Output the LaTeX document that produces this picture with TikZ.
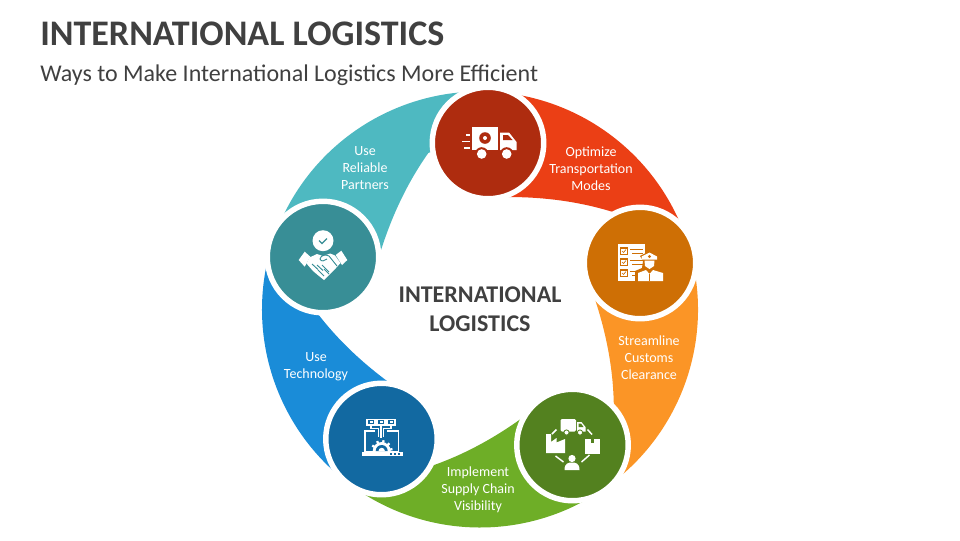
\documentclass[tikz,border=0pt]{standalone}
\usepackage{fontspec}
\setmainfont{Carlito}
\usepackage{xcolor}
\usetikzlibrary{positioning, calc}
\definecolor{inktext}{HTML}{404040}
\definecolor{redpart}{HTML}{EB3F15}
\definecolor{redhub}{HTML}{AE2C0F}
\definecolor{orangepart}{HTML}{FB9526}
\definecolor{orangehub}{HTML}{CE6F05}
\definecolor{greenpart}{HTML}{6EAE27}
\definecolor{greenhub}{HTML}{53811F}
\definecolor{bluepart}{HTML}{1A8CD8}
\definecolor{bluehub}{HTML}{1269A1}
\definecolor{tealpart}{HTML}{4EB9C1}
\definecolor{tealhub}{HTML}{388E96}

\begin{document}
\begin{tikzpicture}[
    x=0.75pt, y=-0.75pt,
    hub/.style={circle, draw=white, line width=4.1pt, minimum size=83.6pt, inner sep=0pt},
    steplabel/.style={text=white, align=center, font=\fontsize{10.5}{12.75}\selectfont},
    headtext/.style={text=inktext, anchor=base west, inner sep=0pt},
    ink/.style={fill=white, draw=none},
    pen/.style={draw=white, line width=1.1pt},
    ringpart/.pic={
      \fill[pic actions] (87:163.5pt) arc[start angle=87, end angle=16, radius=163.5pt]
        -- (160,-60) -- (133,-97.5) .. controls (107,-105.5) and (73,-112.5) .. (28,-112.5)
        -- (9,-113) -- cycle;
    },
  ]
  \useasboundingbox (0,0) rectangle (960,540);
  % Headings
  \node[headtext, font=\fontsize{27}{32}\selectfont\bfseries] (title) at (40,45) {INTERNATIONAL LOGISTICS};
  \node[headtext, font=\fontsize{18}{22}\selectfont] (subtitle) at (40,81) {Ways to Make International Logistics More Efficient};
  % Ring
  \coordinate (ringc) at (480,309.5);
  \pic[fill=redpart] at (ringc) {ringpart};
  \pic[fill=orangepart, rotate=-72] at (ringc) {ringpart};
  \pic[fill=greenpart, rotate=-144] at (ringc) {ringpart};
  \pic[fill=bluepart, rotate=-216] at (ringc) {ringpart};
  \pic[fill=tealpart, rotate=-288] at (ringc) {ringpart};
  % Hubs
  \node[hub, fill=redhub] (truck) at (488,143) {};
  \node[hub, fill=orangehub] (officer) at (640,263) {};
  \node[hub, fill=greenhub] (chain) at (572.5,445) {};
  \node[hub, fill=bluehub] (tech) at (381.5,439) {};
  \node[hub, fill=tealhub] (hands) at (323,257) {};
  % Labels
  \node[steplabel] (optimize) at (591,168.5) {Optimize\\Transportation\\Modes};
  \node[steplabel] (customs) at (649,357.5) {Streamline\\Customs\\Clearance};
  \node[steplabel] (visibility) at (478,489.5) {Implement\\Supply Chain\\Visibility};
  \node[steplabel] (usetech) at (316,366.5) {Use\\Technology};
  \node[steplabel] (partners) at (365,168.5) {Use\\Reliable\\Partners};
  \node[text=inktext, align=center, font=\fontsize{18}{21.7}\selectfont\bfseries] (center) at (480,309) {INTERNATIONAL\\LOGISTICS};
  % Truck icon
  \begin{scope}[shift={(truck.center)}]
    \fill[ink] (-16.5,-16.5) rectangle (10,7);
    \fill[ink] (12,-10.5) -- (21,-10.5) -- (28.5,-1) -- (28.5,7) -- (12,7) -- cycle;
    \fill[redhub] (15,-8) -- (20,-8) -- (24.5,-3) -- (15,-3) -- cycle;
    \fill[redhub] (-3,-5) circle (5.8);
    \fill[ink] (-3,-5) circle (2);
    \fill[redhub] (-6.3,11) circle (6.8);
    \fill[redhub] (18.7,11) circle (6.8);
    \fill[ink] (-6.3,11) circle (4.8);
    \fill[ink] (18.7,11) circle (4.8);
    \draw[pen] (-22,-8) -- (-18,-8);
    \draw[pen] (-26,-1.5) -- (-18,-1.5);
    \draw[pen] (-24,5) -- (-18,5);
  \end{scope}
  % Officer icon
  \begin{scope}[shift={(officer.center)}]
    \fill[ink] (-22,-19) rectangle (5,18);
    \foreach \yy in {-12,-1,10} {
      \draw[orangehub, line width=0.8pt] (-19.5,\yy-3) rectangle (-12.5,\yy+3.5);
      \draw[orangehub, line width=0.5pt] (-18,\yy) -- (-16.5,\yy+1.5) -- (-14,\yy-1.5);
      \draw[orangehub, line width=0.7pt] (-10,\yy-2) -- (3,\yy-2);
      \draw[orangehub, line width=0.7pt] (-8,\yy+2) -- (3,\yy+2);
    }
    \fill[orangehub] (-5,18) -- (-5,8) -- (2,5) -- (3,-2) -- (0,-7) -- (9.5,-12) -- (19,-7) -- (17,-2) -- (16,5) -- (26,8) -- (26,18) -- cycle;
    \fill[ink] (1.7,-3.5) -- (1.7,-6.5) -- (9.5,-10.5) -- (17,-6.5) -- (17,-3.5) -- cycle;
    \fill[ink] (4.5,-2.5) -- (14.5,-2.5) -- (14,3) -- (9.5,6) -- (5,3) -- cycle;
    \fill[ink] (-2,18) -- (-2,10) -- (6,7) -- (9.5,11) -- (13,7) -- (23,10) -- (23,18) -- cycle;
    \draw[orangehub, line width=0.6pt] (9.5,11) -- (9.5,18);
    \fill[orangehub] (9.5,-6.5) circle (1.6);
  \end{scope}
  % Supply chain icon
  \begin{scope}[shift={(chain.center)}]
    \fill[ink, rounded corners=1pt] (-12,-26) rectangle (3.5,-13.5);
    \fill[ink] (4.5,-23) -- (9,-23) -- (13,-18) -- (13,-13.5) -- (4.5,-13.5) -- cycle;
    \fill[greenhub] (6,-21.5) -- (8.5,-21.5) -- (11,-18) -- (6,-18) -- cycle;
    \draw[greenhub, fill=white, line width=0.6pt] (-6,-12.5) circle (2.6);
    \draw[greenhub, fill=white, line width=0.6pt] (7.5,-12.5) circle (2.6);
    \fill[ink] (-26.5,8) -- (-26.5,-11) -- (-21.5,-11) -- (-21.5,-3) -- (-16,-7) -- (-16,-2.5) -- (-7.5,-6) -- (-7.5,8) -- cycle;
    \fill[ink] (12.5,-6) rectangle (27,8.5);
    \fill[greenhub] (18,-6) rectangle (21.5,-2);
    \fill[ink] (-0.5,13.5) circle (3.6);
    \fill[ink] (-8,25) .. controls (-8,18) and (-4,17.5) .. (-0.5,17.5) .. controls (3,17.5) and (7,18) .. (7,25) -- cycle;
    \draw[pen] (-20.5,-11) -- (-16,-15.5);
    \draw[pen] (15,-15.5) -- (19.5,-10.5);
    \draw[pen] (-17,11) -- (-9,17);
    \draw[pen] (9,17) -- (17,10);
  \end{scope}
  % Technology icon
  \begin{scope}[shift={(tech.center)}]
    \foreach \xx in {-10.5,-0.5,9.5} {
      \draw[pen, fill=bluehub] (\xx-4,-19.7) rectangle (\xx+4,-14);
      \fill[ink] (\xx-1.5,-18) rectangle (\xx+1.5,-16);
    }
    \draw[pen] (-6.5,-8) -- (-16.5,-8) -- (-16.5,12.7) -- (17,12.7) -- (17,-8) -- (5.5,-8);
    \draw[pen] (-10.5,-14) -- (-10.5,-10.5) -- (-3,-10.5) -- (-3,-2);
    \draw[pen] (-0.5,-14) -- (-0.5,-1);
    \draw[pen] (9.5,-14) -- (9.5,-10.5) -- (2,-10.5) -- (2,-2);
    \fill[ink] (-20,13) rectangle (21,16.7);
    \fill[bluehub] (8,14) rectangle (10,16);
    \fill[bluehub] (12,14) rectangle (14,16);
    \fill[bluehub] (16,14) rectangle (18,16);
    \begin{scope}[shift={(0.2,12)}]
      \fill[ink] (-9,0) arc[start angle=180, end angle=0, radius=6.75pt] -- cycle;
      \foreach \aa in {10,45,...,170} {
        \draw[white, line width=1.7pt] (\aa:5.5pt) -- (\aa:8.2pt);
      }
      \fill[bluehub] (-6,0) arc[start angle=180, end angle=0, radius=4.5pt] -- cycle;
      \fill[ink] (-3.2,0) arc[start angle=180, end angle=0, radius=2.4pt] -- cycle;
    \end{scope}
  \end{scope}
  % Handshake icon
  \begin{scope}[shift={(hands.center)}]
    \fill[ink] (0,-16.3) circle (10.5);
    \draw[tealhub, line width=0.9pt] (-4,-16.5) -- (-1,-13.5) -- (4,-18.5);
    \fill[ink] (-24.3,3) -- (-18.3,-5.3) -- (-12.7,-0.3) -- (-18.3,9.7) -- cycle;
    \fill[ink] (24.3,3) -- (18.3,-6.3) -- (12.7,-2) -- (19,8) -- cycle;
    \fill[ink] (-13.5,0.5) -- (-6,-3) -- (0,-1) -- (7.3,-3.5) -- (12,-1.5) -- (17.5,6) -- (13,11) -- (8,16) -- (1,23) -- (-4,19) -- (-10,14) -- (-16.5,6.5) -- cycle;
    \draw[tealhub, line width=0.7pt] (-3,2) .. controls (-2,-2.5) and (3,-2.5) .. (6,-1) -- (14,9);
    \draw[tealhub, line width=0.7pt] (-3,2) .. controls (-2,5) and (2,4) .. (4,2);
    \draw[tealhub, line width=0.7pt] (-11,7) -- (-5,12.5);
    \draw[tealhub, line width=0.7pt] (-6,8) -- (0,13.5);
    \draw[tealhub, line width=0.7pt] (-1,8) -- (6,15);
    \draw[tealhub, line width=0.7pt] (-5,13) -- (1,19);
    \draw[tealhub, line width=0.7pt] (1,12) -- (6,17);
  \end{scope}
\end{tikzpicture}
\end{document}
